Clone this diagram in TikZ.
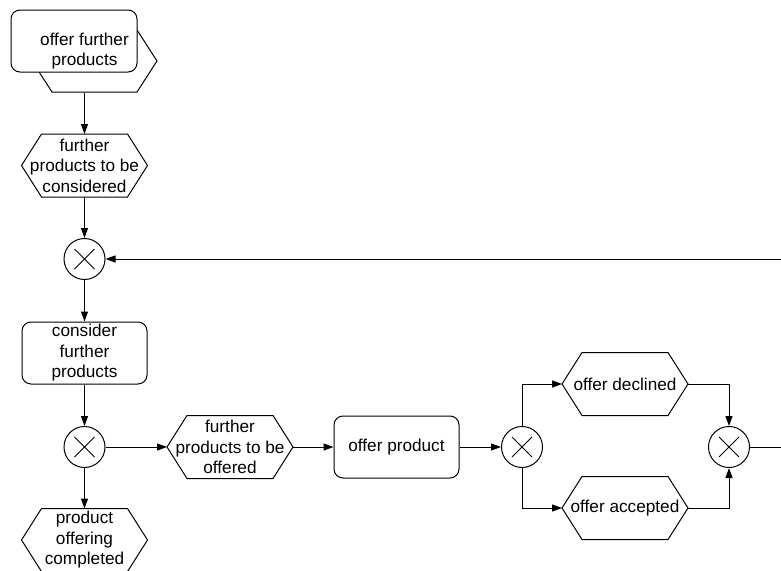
\documentclass[tikz,border=0pt]{standalone}
\usepackage{fontspec}
\setmainfont{Liberation Sans}
\usetikzlibrary{arrows.meta}

% hexagonal event outline around a rectangular node
\newcommand\hexframe[2][20pt]{%
  \draw (#2.west) -- ([xshift=#1]#2.north west) -- ([xshift=-#1]#2.north east)
        -- (#2.east) -- ([xshift=-#1]#2.south east) -- ([xshift=#1]#2.south west) -- cycle;}

\begin{document}
\begin{tikzpicture}[x=1pt, y=-1pt, line width=1pt,
  every node/.style={font=\fontsize{17.2}{20.5}\selectfont, align=center, inner sep=0pt},
  func/.style={rectangle, draw, rounded corners=9pt, minimum width=125pt, minimum height=62pt},
  evt/.style={rectangle, minimum width=125pt, minimum height=62pt},
  xor/.style={circle, draw, minimum size=41pt,
    path picture={\draw[line width=1pt]
      ([shift={(-10pt,-10pt)}]path picture bounding box.center) -- ([shift={(10pt,10pt)}]path picture bounding box.center)
      ([shift={(-10pt,10pt)}]path picture bounding box.center) -- ([shift={(10pt,-10pt)}]path picture bounding box.center);}},
  arr/.style={-{Triangle[length=10pt,width=7pt]}}]

\useasboundingbox (0,0) rectangle (781,570);
\clip (0,0) rectangle (781,570);

% process interface: hexagon behind a rounded box
\draw[fill=white] (32,61) -- (52,30) -- (137,30) -- (157,61) -- (137,92) -- (52,92) -- cycle;
\draw[fill=white, rounded corners=9pt] (11,10) rectangle (137,72);
\node[minimum width=146pt, minimum height=82pt] (pif) at (84.5,51) {offer further\\products};

% events
\node[evt] (ev1) at (84.5,165.5) {further\\products to be\\considered};
\hexframe{ev1}
\node[evt] (ev2) at (84.5,540) {product\\offering\\completed};
\hexframe{ev2}
\node[evt] (ev3) at (230,447) {further\\products to be\\offered};
\hexframe{ev3}
\node[evt] (ev4) at (625,384) {offer declined};
\hexframe{ev4}
\node[evt] (ev5) at (625,508) {offer accepted};
\hexframe{ev5}

% functions
\node[func] (fn1) at (84.5,353) {consider\\further\\products};
\node[func] (fn2) at (396.5,447) {offer product};

% XOR connectors
\node[xor] (x1) at (84.5,259) {};
\node[xor] (x2) at (84.5,447) {};
\node[xor] (x3) at (522,447) {};
\node[xor] (x4) at (729,447) {};

\coordinate (loopR) at (800,353);

% control flow
\draw[arr] (pif.south) -- (ev1.north);
\draw[arr] (ev1.south) -- (x1.north);
\draw[arr] (x1.south) -- (fn1.north);
\draw[arr] (fn1.south) -- (x2.north);
\draw[arr] (x2.south) -- (ev2.north);
\draw[arr] (x2.east) -- (ev3.west);
\draw[arr] (ev3.east) -- (fn2.west);
\draw[arr] (fn2.east) -- (x3.west);
\draw[arr] (x3.north) |- (ev4.west);
\draw[arr] (x3.south) |- (ev5.west);
\draw[arr] (ev4.east) -| (x4.north);
\draw[arr] (ev5.east) -| (x4.south);
\draw[arr] (x4.east) -| (loopR) |- (x1.east);
\end{tikzpicture}
\end{document}
